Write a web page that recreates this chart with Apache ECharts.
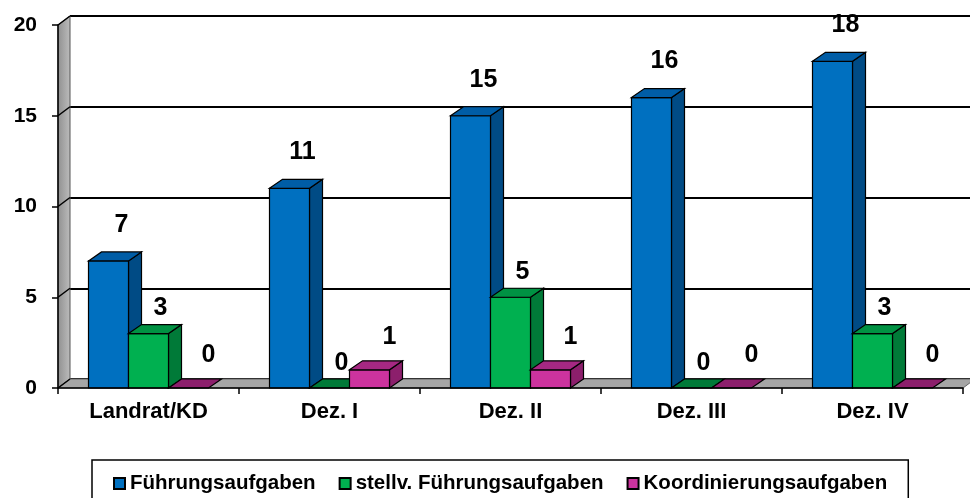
<!DOCTYPE html>
<html>
<head>
<meta charset="utf-8">
<script src="https://cdn.jsdelivr.net/npm/echarts@6/dist/echarts.min.js"></script>
<style>html,body{margin:0;padding:0;background:#fff}#c{width:970px;height:498px}</style>
</head>
<body>
<div id="c"></div>
<script>
const categories = ['Landrat/KD', 'Dez. I', 'Dez. II', 'Dez. III', 'Dez. IV'];
const seriesNames = ['Führungsaufgaben', 'stellv. Führungsaufgaben', 'Koordinierungsaufgaben'];
const fuehrung = [7, 11, 15, 16, 18];
const stellv = [3, 0, 5, 0, 3];
const koord = [0, 1, 1, 0, 0];
const yTicks = [0, 5, 10, 15, 20];

const FONT = "'Liberation Sans', Arial, sans-serif";
const DX = 13, DY = -9;       // bar depth
const WDX = 12, WDY = -9;     // wall depth

const palettes = [
  {front: '#0070C0', side: '#004B85', top: '#005DA6'},
  {front: '#00B050', side: '#007A38', top: '#009243'},
  {front: '#CC339E', side: '#8C1F6C', top: '#A62883'}
];
const labelOffsets = [[13, -36], [12, -25], [20, -33]];

function barSeries(name, values, slot) {
  const pal = palettes[slot];
  const lo = labelOffsets[slot];
  return {
    name: name,
    type: 'custom',
    xAxisIndex: 1, yAxisIndex: 1,
    z: 5 + slot,
    clip: false,
    itemStyle: {color: pal.front, borderColor: '#000', borderWidth: 1},
    data: values.map((v, i) => [i, v]),
    renderItem: function (params, api) {
      const cat = api.value(0), val = api.value(1);
      const base = api.coord([cat, 0]);
      const top = api.coord([cat, val]);
      const catW = api.size([1, 0])[0];
      const bw = catW * 0.221;
      const x0 = base[0] + (slot - 1) * bw - bw / 2;
      const x1 = x0 + bw;
      const yb = base[1], yt = top[1];
      const stroke = {stroke: '#000', lineWidth: 1.2};
      const children = [];
      if (yb - yt > 0.5) {
        children.push({type: 'polygon', shape: {points: [[x1, yb], [x1 + DX, yb + DY], [x1 + DX, yt + DY], [x1, yt]]},
          style: Object.assign({fill: pal.side}, stroke)});
        children.push({type: 'rect', shape: {x: x0, y: yt, width: bw, height: yb - yt},
          style: Object.assign({fill: pal.front}, stroke)});
      }
      children.push({type: 'polygon', shape: {points: [[x0, yt], [x0 + DX, yt + DY], [x1 + DX, yt + DY], [x1, yt]]},
        style: Object.assign({fill: val === 0 ? pal.side : pal.top}, stroke)});
      children.push({type: 'text', z2: 10, style: {
        text: String(val), x: (x0 + x1) / 2 + lo[0], y: yt + lo[1],
        align: 'center', verticalAlign: 'middle',
        font: 'bold 25px ' + FONT, fill: '#000'}});
      return {type: 'group', children: children};
    }
  };
}

const decorSeries = {
  name: 'decor',
  type: 'custom',
  xAxisIndex: 1, yAxisIndex: 1,
  z: 1,
  clip: false,
  silent: true,
  data: [[0, 0]],
  renderItem: function (params, api) {
    const n = categories.length;
    const catW = api.size([1, 0])[0];
    const left = api.coord([0, 0])[0] - catW / 2;
    const right = api.coord([n - 1, 0])[0] + catW / 2;
    const y0 = api.coord([0, yTicks[0]])[1];
    const yTop = api.coord([0, yTicks[yTicks.length - 1]])[1];
    const children = [];
    children.push({type: 'polygon', shape: {points: [[left, y0], [left, yTop], [left + WDX, yTop + WDY], [left + WDX, y0 + WDY]]},
      style: {fill: {type: 'linear', x: 0, y: 0, x2: 1, y2: 0, colorStops: [{offset: 0, color: '#8f8f8f'}, {offset: 1, color: '#bdbdbd'}]}, stroke: '#555', lineWidth: 1}});
    children.push({type: 'polygon', shape: {points: [[left, y0], [right, y0], [right + WDX, y0 + WDY], [left + WDX, y0 + WDY]]},
      style: {fill: '#A6A6A6', stroke: '#666', lineWidth: 1}});
    yTicks.forEach(function (t) {
      const y = api.coord([0, t])[1];
      children.push({type: 'line', shape: {x1: left, y1: y, x2: left + WDX, y2: y + WDY},
        style: {stroke: '#000', lineWidth: 1.5}});
    });
    return {type: 'group', children: children};
  }
};

const chart = echarts.init(document.getElementById('c'), null, {renderer: 'canvas'});
chart.setOption({
  animation: false,
  backgroundColor: '#fff',
  grid: [
    {left: 70, top: 16, width: 905, height: 363},
    {left: 58, top: 25, right: 7, bottom: 110}
  ],
  xAxis: [
    {gridIndex: 0, type: 'category', data: categories, show: false},
    {gridIndex: 1, type: 'category', data: categories, boundaryGap: true,
      axisLine: {show: true, lineStyle: {color: '#000', width: 1.5}},
      axisTick: {show: true, length: 6, lineStyle: {color: '#000', width: 1.5}},
      axisLabel: {color: '#000', fontWeight: 'bold', fontSize: 22, fontFamily: FONT, margin: 13},
      z: 10}
  ],
  yAxis: [
    {gridIndex: 0, type: 'value', min: 0, max: 20, interval: 5,
      axisLine: {show: false}, axisTick: {show: false}, axisLabel: {show: false},
      splitLine: {show: true, lineStyle: {color: '#000', width: 2}}},
    {gridIndex: 1, type: 'value', min: 0, max: 20, interval: 5,
      axisLine: {show: true, lineStyle: {color: '#000', width: 1.5}},
      axisTick: {show: true, inside: false, length: 6, lineStyle: {color: '#000', width: 1.5}},
      axisLabel: {color: '#000', fontWeight: 'bold', fontSize: 21, fontFamily: FONT, margin: 21},
      splitLine: {show: false},
      z: 10}
  ],
  legend: {
    data: seriesNames,
    selectedMode: false,
    left: 92, top: 460,
    padding: [13, 21, 30, 21],
    itemWidth: 11, itemHeight: 11, itemGap: 23,
    icon: 'rect',
    borderColor: '#000', borderWidth: 1.5,
    textStyle: {color: '#000', fontWeight: 'bold', fontSize: 20.5, fontFamily: FONT}
  },
  series: [
    decorSeries,
    barSeries(seriesNames[0], fuehrung, 0),
    barSeries(seriesNames[1], stellv, 1),
    barSeries(seriesNames[2], koord, 2)
  ]
});
</script>
</body>
</html>
